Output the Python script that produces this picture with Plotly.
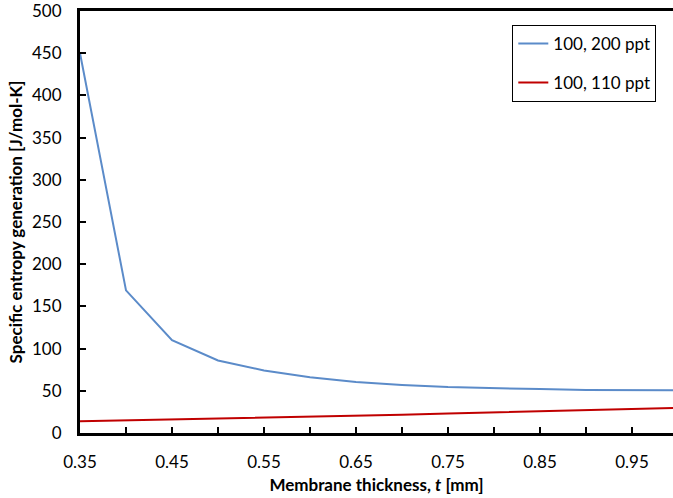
import plotly.graph_objects as go

thickness = [0.35, 0.40, 0.45, 0.50, 0.55, 0.60, 0.65, 0.70, 0.75, 0.80, 0.85, 0.90, 0.95, 1.00]
s_200 = [450, 169, 110, 86, 74, 66, 60.5, 57, 54.5, 53, 52, 51, 50.7, 50.5]
s_110 = [14, 15, 16, 17, 18, 19.2, 20.4, 21.7, 23, 24.3, 25.6, 27, 28.4, 29.8]
x_ticks = [0.35, 0.45, 0.55, 0.65, 0.75, 0.85, 0.95]
y_ticks = [0, 50, 100, 150, 200, 250, 300, 350, 400, 450, 500]

font = "Lato, 'Open Sans', sans-serif"

fig = go.Figure()
fig.add_trace(go.Scatter(x=thickness, y=s_200, mode="lines", name="100, 200 ppt",
                         legendgroup="a", line=dict(color="#5B8BC9", width=2)))
fig.add_trace(go.Scatter(x=thickness, y=s_110, mode="lines", name="100, 110 ppt",
                         legendgroup="b", line=dict(color="#C00000", width=2)))

fig.update_layout(
    width=673, height=498,
    margin=dict(l=80, r=0, t=8, b=65),
    paper_bgcolor="white", plot_bgcolor="white",
    font=dict(family=font, color="black", size=17),
    showlegend=True,
    legend=dict(x=0.729, y=0.967, xanchor="left", yanchor="top",
                bordercolor="black", borderwidth=1, bgcolor="white",
                font=dict(size=17), tracegroupgap=14, itemwidth=30),
    xaxis=dict(range=[0.35, 0.35 + 593 / 920], tickmode="array", tickvals=x_ticks,
               ticktext=[f"{v:.2f}" for v in x_ticks],
               showgrid=False, zeroline=False, showline=True, linecolor="black", linewidth=3,
               mirror=True, ticks="inside", ticklen=6, tickwidth=2, tickcolor="black",
               minor=dict(ticks="inside", dtick=0.05, ticklen=6, tickwidth=2, tickcolor="black"),
               tickfont=dict(size=17), ticklabelstandoff=12,
               title=dict(text="<b>Membrane thickness, <i>t</i> [mm]</b>", font=dict(size=17), standoff=8)),
    yaxis=dict(range=[0, 500], tickmode="array", tickvals=y_ticks,
               showgrid=False, zeroline=False, showline=True, linecolor="black", linewidth=3,
               mirror=False, ticks="inside", ticklen=6, tickwidth=2, tickcolor="black",
               tickfont=dict(size=17), ticklabelstandoff=12, ticklabeloverflow="allow",
               title=dict(text="<b>Specific entropy generation [J/mol-K]</b>", font=dict(size=17), standoff=6)),
)

fig.write_html("out.html")
